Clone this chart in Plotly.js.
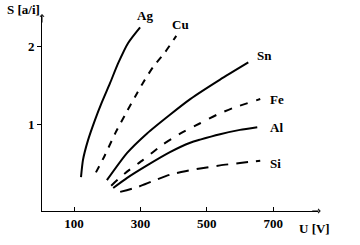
<!DOCTYPE html>
<html><head><meta charset="utf-8">
<script src="https://cdn.plot.ly/plotly-3.0.1.min.js"></script>
<style>html,body{margin:0;padding:0;background:#fff}#chart{width:360px;height:245px}</style>
</head><body><div id="chart"></div>
<script>
// Sputtering yield S [a/i] versus ion energy U [V]
const agU = [121, 127, 142, 163, 184, 209, 233, 263, 299];
const agS = [0.32, 0.54, 0.79, 1.05, 1.28, 1.53, 1.78, 2.04, 2.24];
const cuU = [166, 193, 224, 254, 284, 308, 338, 374, 408];
const cuS = [0.38, 0.60, 0.88, 1.12, 1.35, 1.53, 1.73, 1.92, 2.13];
const snU = [199, 260, 320, 389, 450, 540, 625];
const snS = [0.28, 0.63, 0.88, 1.12, 1.32, 1.57, 1.79];
const feU = [212, 254, 308, 365, 429, 480, 531, 582, 661];
const feS = [0.21, 0.37, 0.54, 0.73, 0.90, 1.01, 1.12, 1.21, 1.32];
const alU = [218, 260, 320, 389, 450, 480, 540, 600, 652];
const alS = [0.18, 0.31, 0.47, 0.64, 0.76, 0.80, 0.87, 0.925, 0.96];
const siU = [239, 290, 338, 389, 435, 480, 540, 600, 661];
const siS = [0.13, 0.19, 0.27, 0.35, 0.395, 0.43, 0.47, 0.50, 0.53];
const xTicks = [100, 300, 500, 700];
const yTicks = [1, 2];
const names = ['Ag', 'Cu', 'Sn', 'Fe', 'Al', 'Si'];

const FONT = 'Liberation Serif, Times New Roman, serif';
const series = [[agU, agS, 'solid'], [cuU, cuS, '7px,7px'], [snU, snS, 'solid'],
                [feU, feS, '8px,9px'], [alU, alS, 'solid'], [siU, siS, '12px,8px']];
const traces = series.map((s, i) => ({
  x: s[0], y: s[1], name: names[i], type: 'scatter', mode: 'lines',
  line: {color: '#000', width: 2, dash: s[2], shape: 'spline', smoothing: 0.6},
  hoverinfo: 'skip', showlegend: false
}));

// label anchors: [xref, x, yref, y]
const labelPos = [['paper', 0.337, 'paper', 1.005], ['x', 389, 'y', 2.27], ['x', 646, 'y', 1.88],
                  ['x', 685, 'y', 1.32], ['x', 685, 'y', 0.96], ['x', 685, 'y', 0.50]];
const annotations = names.map((n, i) => ({
  text: n, xref: labelPos[i][0], x: labelPos[i][1], yref: labelPos[i][2], y: labelPos[i][3],
  xanchor: 'left', yanchor: 'middle', showarrow: false,
  font: {family: FONT, size: 13, color: '#000', weight: 'bold'}
}));
annotations.push(
  {text: 'S [a/i]', xref: 'paper', yref: 'paper', x: -0.134, y: 1.031, xanchor: 'left', yanchor: 'middle',
   showarrow: false, font: {family: FONT, size: 13, color: '#000', weight: 'bold'}},
  {text: 'U [V]', xref: 'paper', yref: 'paper', x: 0.925, y: -0.04, xanchor: 'left', yanchor: 'top',
   showarrow: false, font: {family: FONT, size: 13, color: '#000', weight: 'bold'}},
  {xref: 'paper', yref: 'paper', x: 0, y: 1.01, ax: 0, ay: 10, showarrow: true, arrowhead: 4,
   arrowsize: 0.8, arrowwidth: 1, arrowcolor: '#000', text: ''},
  {xref: 'paper', yref: 'paper', x: 1.01, y: 0, ax: -10, ay: 0, showarrow: true, arrowhead: 4,
   arrowsize: 0.8, arrowwidth: 1, arrowcolor: '#000', text: ''}
);

const layout = {
  width: 360, height: 245,
  margin: {l: 42, r: 42, t: 16, b: 34},
  paper_bgcolor: '#fff', plot_bgcolor: '#fff',
  font: {family: FONT, size: 13, color: '#000', weight: 'bold'},
  xaxis: {range: [3.5, 835], tickvals: xTicks, ticktext: xTicks.map(String),
          showgrid: false, zeroline: false, showline: true, linecolor: '#000', linewidth: 1,
          ticks: 'inside', ticklen: 4, tickcolor: '#000', tickwidth: 1, fixedrange: true},
  yaxis: {range: [-0.115, 2.385], tickvals: yTicks, ticktext: yTicks.map(String),
          showgrid: false, zeroline: false, showline: true, linecolor: '#000', linewidth: 1,
          ticks: 'outside', ticklen: 4, tickcolor: '#000', tickwidth: 1, fixedrange: true},
  annotations: annotations
};
Plotly.newPlot('chart', traces, layout, {staticPlot: true, displayModeBar: false});
</script></body></html>
